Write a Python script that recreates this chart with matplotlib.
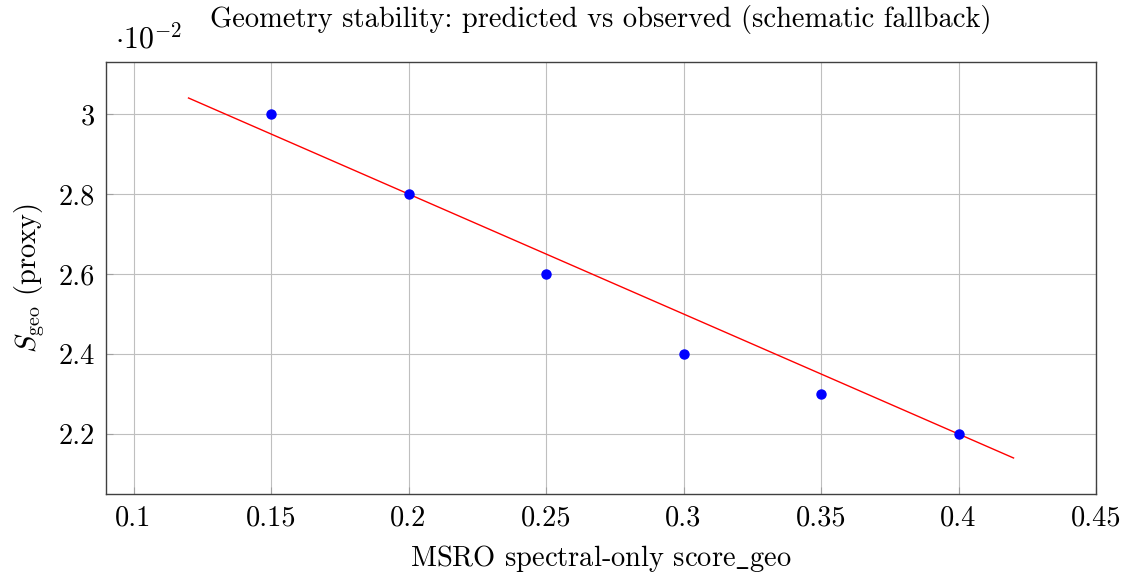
import matplotlib
matplotlib.use("Agg")
import matplotlib.pyplot as plt
from matplotlib.ticker import FuncFormatter

# observed points (y axis shown in units of 1e-2)
obs_x = [0.15, 0.20, 0.25, 0.30, 0.35, 0.40]
obs_y = [0.030, 0.028, 0.026, 0.024, 0.023, 0.022]

# predicted line, two end points
fit_x = [0.12, 0.42]
fit_y = [0.0304, 0.0214]

xticks = [0.1, 0.15, 0.2, 0.25, 0.3, 0.35, 0.4, 0.45]
yticks = [0.022, 0.024, 0.026, 0.028, 0.030]

plt.rcParams['font.family'] = 'serif'
plt.rcParams['font.serif'] = ['cmr10', 'DejaVu Serif']
plt.rcParams['mathtext.fontset'] = 'cm'
plt.rcParams['axes.unicode_minus'] = False

fs = 20.5

fig = plt.figure(figsize=(11.29, 5.73), dpi=100)
ax = fig.add_axes([0.0939, 0.1379, 0.8769, 0.7539])

ax.plot(fit_x, fit_y, color='red', lw=1.0, zorder=2)
ax.plot(obs_x, obs_y, 'o', color='#0000ff', ms=6.5, zorder=3)

ax.set_xlim(0.09, 0.45)
ax.set_ylim(0.0205, 0.0313)
ax.set_xticks(xticks)
ax.set_yticks(yticks)
ax.xaxis.set_major_formatter(FuncFormatter(lambda v, p: ('%g' % round(v, 3))))
ax.yaxis.set_major_formatter(FuncFormatter(lambda v, p: ('%g' % round(v * 100, 2))))
ax.grid(True, color='#bfbfbf', lw=0.8)
ax.set_axisbelow(True)
ax.tick_params(direction='in', length=5, color='#a0a0a0', labelsize=fs, pad=8)
for s in ax.spines.values():
    s.set_color('#404040')
    s.set_linewidth(1.0)

ax.set_title('Geometry stability: predicted vs observed (schematic fallback)',
             fontsize=fs, pad=25)
ax.text(0.009, 1.032, r'$\cdot 10^{-2}$', transform=ax.transAxes, fontsize=fs + 1,
        ha='left', va='baseline')
ax.set_xlabel(r'MSRO spectral-only score$\_$geo', fontsize=fs, labelpad=8)
ax.set_ylabel(r'$S_{\mathrm{geo}}$ (proxy)', fontsize=fs, labelpad=8)

fig.savefig('out.png', dpi=100)
